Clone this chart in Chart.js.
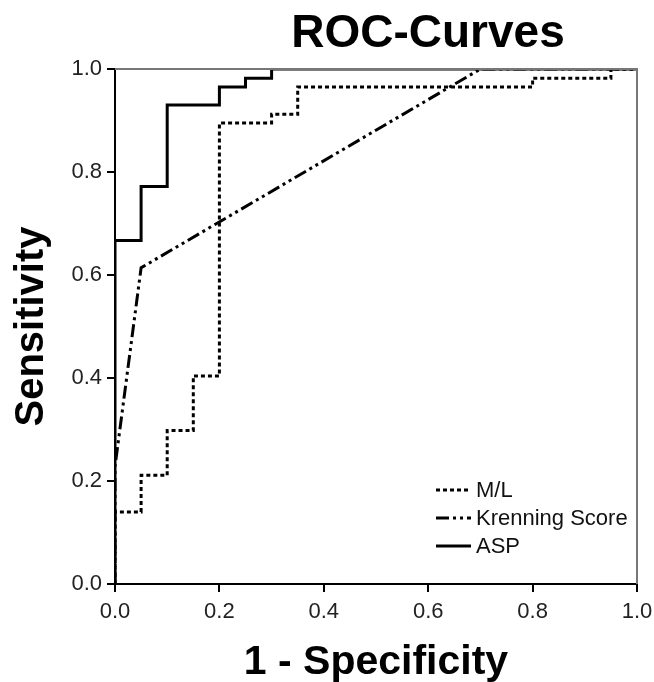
<!DOCTYPE html>
<html>
<head>
<meta charset="utf-8">
<script src="https://cdn.jsdelivr.net/npm/chart.js@4/dist/chart.umd.min.js"></script>
<style>
  html, body { margin: 0; padding: 0; background: #fff; }
  #wrap { width: 654px; height: 682px; }
</style>
</head>
<body>
<div id="wrap"><canvas id="myChart" width="654" height="682"></canvas></div>
<script>
// ROC coordinates (1 - specificity, sensitivity)
var mlFpr = [0, 0, 0.05, 0.05, 0.10, 0.10, 0.15, 0.15, 0.20, 0.20, 0.30, 0.30, 0.35, 0.35, 0.80, 0.80, 0.95, 0.95, 1.0]
var mlTpr = [0, 0.140, 0.140, 0.211, 0.211, 0.298, 0.298, 0.404, 0.404, 0.895, 0.895, 0.912, 0.912, 0.965, 0.965, 0.982, 0.982, 1.0, 1.0]

var krenningFpr = [0, 0, 0.05, 0.70, 1.0]
var krenningTpr = [0, 0.228, 0.614, 1.0, 1.0]

var aspFpr = [0, 0, 0.05, 0.05, 0.10, 0.10, 0.20, 0.20, 0.25, 0.25, 0.30, 0.30, 1.0]
var aspTpr = [0, 0.667, 0.667, 0.772, 0.772, 0.930, 0.930, 0.965, 0.965, 0.982, 0.982, 1.0, 1.0]

var seriesNames = ['M/L', 'Krenning Score', 'ASP']
var tickValues = [0, 0.2, 0.4, 0.6, 0.8, 1.0]

var fontFamily = "'Liberation Sans', Arial, Helvetica, sans-serif"

function toPoints(xs, ys) {
  var pts = []
  for (var i = 0; i < xs.length; i++) {
    pts.push({ x: xs[i], y: ys[i] })
  }
  return pts
}

// title, legend and the grey top/right frame, drawn on the canvas
var decorations = {
  id: 'decorations',
  afterDraw: function (chart) {
    var ctx = chart.ctx
    var area = chart.chartArea
    ctx.save()

    ctx.strokeStyle = '#777'
    ctx.lineWidth = 2
    ctx.setLineDash([])
    ctx.beginPath()
    ctx.moveTo(area.left, area.top)
    ctx.lineTo(area.right, area.top)
    ctx.lineTo(area.right, area.bottom)
    ctx.stroke()

    ctx.fillStyle = '#000'
    ctx.font = 'bold 46px ' + fontFamily
    ctx.textAlign = 'center'
    ctx.textBaseline = 'middle'
    ctx.fillText('ROC-Curves', 428, 34)

    ctx.font = '22px ' + fontFamily
    ctx.textAlign = 'left'
    chart.data.datasets.forEach(function (ds, i) {
      var y = 490 + i * 28
      ctx.strokeStyle = '#000'
      ctx.lineWidth = 3
      ctx.setLineDash(ds.borderDash || [])
      ctx.beginPath()
      ctx.moveTo(436, y)
      ctx.lineTo(471, y)
      ctx.stroke()
      ctx.fillStyle = '#111'
      ctx.fillText(ds.label, 476, y + 1)
    })
    ctx.restore()
  }
}

var ctx = document.getElementById('myChart').getContext('2d')
var myChart = new Chart(ctx, {
  type: 'line',
  data: {
    datasets: [{
        label: seriesNames[0],
        data: toPoints(mlFpr, mlTpr),
        borderColor: '#000',
        borderWidth: 3,
        borderDash: [4, 3],
        pointRadius: 0,
        tension: 0
    },
    {
        label: seriesNames[1],
        data: toPoints(krenningFpr, krenningTpr),
        borderColor: '#000',
        borderWidth: 3,
        borderDash: [13, 4, 3, 4, 3, 4],
        pointRadius: 0,
        tension: 0
    },
    {
        label: seriesNames[2],
        data: toPoints(aspFpr, aspTpr),
        borderColor: '#000',
        borderWidth: 3,
        pointRadius: 0,
        tension: 0
    }]
  },
  options: {
    responsive: false,
    animation: false,
    layout: { padding: { top: 69, right: 17, left: 0, bottom: 0 } },
    plugins: {
      legend: { display: false },
      title: { display: false },
      tooltip: { enabled: false }
    },
    scales: {
      x: {
        type: 'linear',
        min: 0,
        max: 1,
        afterFit: function (scale) {
          scale.height = 98
          scale.paddingRight = 0
          scale.paddingLeft = 0
        },
        afterBuildTicks: function (scale) {
          scale.ticks = tickValues.map(function (v) { return { value: v } })
        },
        grid: { display: true, drawOnChartArea: false, tickLength: 8, color: '#000', lineWidth: 2 },
        border: { display: true, color: '#000', width: 2 },
        ticks: {
          padding: 7,
          color: '#222',
          font: { family: fontFamily, size: 22 },
          callback: function (v) { return v.toFixed(1) }
        },
        title: {
          display: true,
          text: '1 - Specificity',
          color: '#000',
          font: { family: fontFamily, size: 41, weight: 'bold', lineHeight: 0.95 },
          padding: { top: 0, bottom: 0 }
        }
      },
      y: {
        type: 'linear',
        min: 0,
        max: 1,
        afterFit: function (scale) {
          scale.width = 115
          scale.paddingTop = 0
          scale.paddingBottom = 0
        },
        afterBuildTicks: function (scale) {
          scale.ticks = tickValues.map(function (v) { return { value: v } })
        },
        grid: { display: true, drawOnChartArea: false, tickLength: 8, color: '#000', lineWidth: 2 },
        border: { display: true, color: '#000', width: 2 },
        ticks: {
          padding: 5,
          color: '#222',
          font: { family: fontFamily, size: 22 },
          callback: function (v) { return v.toFixed(1) }
        },
        title: {
          display: true,
          text: 'Sensitivity',
          color: '#000',
          font: { family: fontFamily, size: 40, weight: 'bold' },
          padding: { top: 8, bottom: 0 }
        }
      }
    }
  },
  plugins: [decorations]
})
</script>
</body>
</html>
